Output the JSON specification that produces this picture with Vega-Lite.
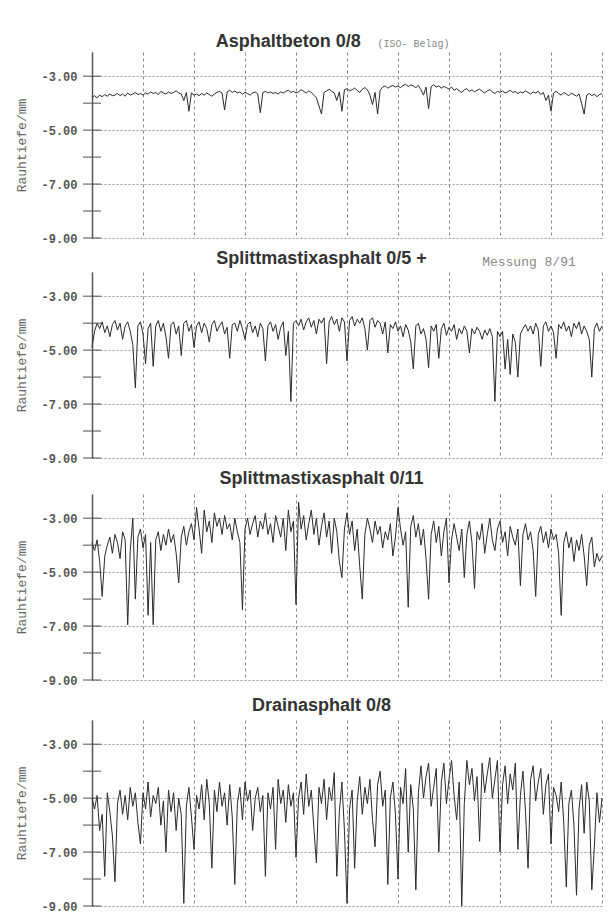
{
  "$schema": "https://vega.github.io/schema/vega-lite/v6.json",
  "padding": {"left": 15, "top": 33, "right": 5, "bottom": 3},
  "background": "white",
  "config": {
    "view": {"stroke": null},
    "axisY": {"domainColor": "#555", "domainWidth": 1.5, "ticks": false, "grid": true, "gridDash": [2, 2], "gridColor": "#999", "labelFont": "Liberation Mono", "labelFontSize": 12, "labelFontWeight": "bold", "labelColor": "#555", "labelPadding": 15, "titleFont": "Liberation Mono", "titleFontSize": 13, "titleFontWeight": "normal", "titleColor": "#666", "titlePadding": 12},
    "axisX": {"labels": false, "ticks": false, "domain": false, "grid": true, "gridDash": [3, 3], "gridColor": "#888"},
    "text": {"font": "Liberation Sans", "fontSize": 18, "fontWeight": "bold", "color": "#333", "baseline": "middle"}
  },
  "datasets": {
    "ticks": [{"y": -3}, {"y": -4}, {"y": -5}, {"y": -6}, {"y": -7}, {"y": -8}, {"y": -9}],
    "p1": [
{"x":0,"y":-3.78},{"x":1,"y":-3.72},{"x":2,"y":-3.80},{"x":3,"y":-3.70},{"x":4,"y":-3.76},{"x":5,"y":-3.68},{"x":6,"y":-3.74},{"x":7,"y":-3.66},{"x":8,"y":-3.72},{"x":9,"y":-3.70},
{"x":10,"y":-3.64},{"x":11,"y":-3.72},{"x":12,"y":-3.66},{"x":13,"y":-3.74},{"x":14,"y":-3.62},{"x":15,"y":-3.70},{"x":16,"y":-3.66},{"x":17,"y":-3.60},{"x":18,"y":-3.68},{"x":19,"y":-3.64},
{"x":20,"y":-3.70},{"x":21,"y":-3.62},{"x":22,"y":-3.66},{"x":23,"y":-3.58},{"x":24,"y":-3.64},{"x":25,"y":-3.60},{"x":26,"y":-3.68},{"x":27,"y":-3.56},{"x":28,"y":-3.62},{"x":29,"y":-3.66},
{"x":30,"y":-3.58},{"x":31,"y":-3.64},{"x":32,"y":-3.60},{"x":33,"y":-3.54},{"x":34,"y":-3.62},{"x":35,"y":-3.66},{"x":36,"y":-3.90},{"x":37,"y":-3.60},{"x":38,"y":-4.30},{"x":39,"y":-3.62},
{"x":40,"y":-3.70},{"x":41,"y":-3.66},{"x":42,"y":-3.72},{"x":43,"y":-3.64},{"x":44,"y":-3.70},{"x":45,"y":-3.62},{"x":46,"y":-3.68},{"x":47,"y":-3.74},{"x":48,"y":-3.66},{"x":49,"y":-3.60},
{"x":50,"y":-3.56},{"x":51,"y":-3.62},{"x":52,"y":-4.25},{"x":53,"y":-3.58},{"x":54,"y":-3.52},{"x":55,"y":-3.60},{"x":56,"y":-3.55},{"x":57,"y":-3.62},{"x":58,"y":-3.58},{"x":59,"y":-3.66},
{"x":60,"y":-3.60},{"x":61,"y":-3.64},{"x":62,"y":-3.70},{"x":63,"y":-3.62},{"x":64,"y":-3.58},{"x":65,"y":-3.66},{"x":66,"y":-4.35},{"x":67,"y":-3.60},{"x":68,"y":-3.56},{"x":69,"y":-3.62},
{"x":70,"y":-3.58},{"x":71,"y":-3.64},{"x":72,"y":-3.60},{"x":73,"y":-3.66},{"x":74,"y":-3.58},{"x":75,"y":-3.62},{"x":76,"y":-3.56},{"x":77,"y":-3.52},{"x":78,"y":-3.60},{"x":79,"y":-3.56},
{"x":80,"y":-3.62},{"x":81,"y":-3.58},{"x":82,"y":-3.50},{"x":83,"y":-3.56},{"x":84,"y":-3.62},{"x":85,"y":-3.54},{"x":86,"y":-3.60},{"x":87,"y":-3.70},{"x":88,"y":-3.80},{"x":89,"y":-4.10},
{"x":90,"y":-4.40},{"x":91,"y":-3.60},{"x":92,"y":-3.54},{"x":93,"y":-3.48},{"x":94,"y":-3.56},{"x":95,"y":-3.62},{"x":96,"y":-3.90},{"x":97,"y":-3.58},{"x":98,"y":-4.30},{"x":99,"y":-3.50},
{"x":100,"y":-3.46},{"x":101,"y":-3.54},{"x":102,"y":-3.50},{"x":103,"y":-3.44},{"x":104,"y":-3.52},{"x":105,"y":-3.60},{"x":106,"y":-3.48},{"x":107,"y":-3.42},{"x":108,"y":-3.50},{"x":109,"y":-3.70},
{"x":110,"y":-4.05},{"x":111,"y":-3.60},{"x":112,"y":-4.40},{"x":113,"y":-3.52},{"x":114,"y":-3.40},{"x":115,"y":-3.36},{"x":116,"y":-3.44},{"x":117,"y":-3.38},{"x":118,"y":-3.34},{"x":119,"y":-3.40},
{"x":120,"y":-3.36},{"x":121,"y":-3.42},{"x":122,"y":-3.34},{"x":123,"y":-3.30},{"x":124,"y":-3.38},{"x":125,"y":-3.32},{"x":126,"y":-3.36},{"x":127,"y":-3.42},{"x":128,"y":-3.34},{"x":129,"y":-3.50},
{"x":130,"y":-3.70},{"x":131,"y":-3.40},{"x":132,"y":-4.20},{"x":133,"y":-3.38},{"x":134,"y":-3.32},{"x":135,"y":-3.40},{"x":136,"y":-3.36},{"x":137,"y":-3.44},{"x":138,"y":-3.38},{"x":139,"y":-3.42},
{"x":140,"y":-3.48},{"x":141,"y":-3.40},{"x":142,"y":-3.52},{"x":143,"y":-3.46},{"x":144,"y":-3.54},{"x":145,"y":-3.60},{"x":146,"y":-3.50},{"x":147,"y":-3.46},{"x":148,"y":-3.56},{"x":149,"y":-3.50},
{"x":150,"y":-3.58},{"x":151,"y":-3.52},{"x":152,"y":-3.48},{"x":153,"y":-3.56},{"x":154,"y":-3.62},{"x":155,"y":-3.54},{"x":156,"y":-3.50},{"x":157,"y":-3.58},{"x":158,"y":-3.64},{"x":159,"y":-3.56},
{"x":160,"y":-3.60},{"x":161,"y":-3.54},{"x":162,"y":-3.62},{"x":163,"y":-3.58},{"x":164,"y":-3.52},{"x":165,"y":-3.60},{"x":166,"y":-3.56},{"x":167,"y":-3.64},{"x":168,"y":-3.58},{"x":169,"y":-3.62},
{"x":170,"y":-3.54},{"x":171,"y":-3.60},{"x":172,"y":-3.66},{"x":173,"y":-3.58},{"x":174,"y":-3.62},{"x":175,"y":-3.56},{"x":176,"y":-3.68},{"x":177,"y":-3.60},{"x":178,"y":-3.90},{"x":179,"y":-3.70},
{"x":180,"y":-4.30},{"x":181,"y":-3.62},{"x":182,"y":-3.56},{"x":183,"y":-3.64},{"x":184,"y":-3.70},{"x":185,"y":-3.60},{"x":186,"y":-3.66},{"x":187,"y":-3.72},{"x":188,"y":-3.62},{"x":189,"y":-3.68},
{"x":190,"y":-3.74},{"x":191,"y":-3.66},{"x":192,"y":-4.00},{"x":193,"y":-4.40},{"x":194,"y":-3.70},{"x":195,"y":-3.64},{"x":196,"y":-3.72},{"x":197,"y":-3.66},{"x":198,"y":-3.76},{"x":199,"y":-3.68},
{"x":200,"y":-3.64}
    ],
    "p2": [
{"x":0,"y":-4.90},{"x":1,"y":-4.30},{"x":2,"y":-4.00},{"x":3,"y":-4.20},{"x":4,"y":-3.95},{"x":5,"y":-4.35},{"x":6,"y":-4.10},{"x":7,"y":-4.50},{"x":8,"y":-4.05},{"x":9,"y":-3.90},
{"x":10,"y":-4.25},{"x":11,"y":-4.00},{"x":12,"y":-4.60},{"x":13,"y":-4.10},{"x":14,"y":-3.95},{"x":15,"y":-4.30},{"x":16,"y":-4.80},{"x":17,"y":-6.40},{"x":18,"y":-4.10},{"x":19,"y":-3.95},
{"x":20,"y":-4.40},{"x":21,"y":-5.50},{"x":22,"y":-4.20},{"x":23,"y":-4.00},{"x":24,"y":-5.60},{"x":25,"y":-4.10},{"x":26,"y":-3.90},{"x":27,"y":-4.30},{"x":28,"y":-4.00},{"x":29,"y":-4.50},
{"x":30,"y":-5.30},{"x":31,"y":-4.05},{"x":32,"y":-3.95},{"x":33,"y":-4.40},{"x":34,"y":-4.10},{"x":35,"y":-5.20},{"x":36,"y":-4.00},{"x":37,"y":-3.90},{"x":38,"y":-4.30},{"x":39,"y":-4.05},
{"x":40,"y":-4.90},{"x":41,"y":-4.10},{"x":42,"y":-3.95},{"x":43,"y":-4.35},{"x":44,"y":-4.00},{"x":45,"y":-4.20},{"x":46,"y":-4.70},{"x":47,"y":-4.05},{"x":48,"y":-3.90},{"x":49,"y":-4.30},
{"x":50,"y":-4.10},{"x":51,"y":-3.95},{"x":52,"y":-4.40},{"x":53,"y":-4.15},{"x":54,"y":-5.30},{"x":55,"y":-4.05},{"x":56,"y":-4.00},{"x":57,"y":-4.30},{"x":58,"y":-3.90},{"x":59,"y":-4.20},
{"x":60,"y":-4.60},{"x":61,"y":-4.05},{"x":62,"y":-3.95},{"x":63,"y":-4.35},{"x":64,"y":-4.10},{"x":65,"y":-4.50},{"x":66,"y":-4.00},{"x":67,"y":-4.20},{"x":68,"y":-5.40},{"x":69,"y":-4.10},
{"x":70,"y":-3.95},{"x":71,"y":-4.30},{"x":72,"y":-4.05},{"x":73,"y":-4.60},{"x":74,"y":-4.15},{"x":75,"y":-3.95},{"x":76,"y":-5.20},{"x":77,"y":-4.30},{"x":78,"y":-6.90},{"x":79,"y":-4.00},
{"x":80,"y":-3.90},{"x":81,"y":-4.10},{"x":82,"y":-3.85},{"x":83,"y":-4.25},{"x":84,"y":-3.95},{"x":85,"y":-3.80},{"x":86,"y":-4.15},{"x":87,"y":-3.90},{"x":88,"y":-4.40},{"x":89,"y":-3.85},
{"x":90,"y":-4.00},{"x":91,"y":-3.80},{"x":92,"y":-5.50},{"x":93,"y":-3.95},{"x":94,"y":-3.75},{"x":95,"y":-4.05},{"x":96,"y":-3.85},{"x":97,"y":-4.30},{"x":98,"y":-3.80},{"x":99,"y":-3.95},
{"x":100,"y":-5.40},{"x":101,"y":-3.90},{"x":102,"y":-3.75},{"x":103,"y":-4.10},{"x":104,"y":-3.85},{"x":105,"y":-4.00},{"x":106,"y":-3.80},{"x":107,"y":-4.20},{"x":108,"y":-5.00},{"x":109,"y":-3.90},
{"x":110,"y":-3.80},{"x":111,"y":-4.15},{"x":112,"y":-3.90},{"x":113,"y":-4.00},{"x":114,"y":-4.40},{"x":115,"y":-3.95},{"x":116,"y":-5.10},{"x":117,"y":-4.05},{"x":118,"y":-4.20},{"x":119,"y":-3.95},
{"x":120,"y":-4.30},{"x":121,"y":-4.10},{"x":122,"y":-4.50},{"x":123,"y":-4.05},{"x":124,"y":-4.25},{"x":125,"y":-4.70},{"x":126,"y":-5.70},{"x":127,"y":-4.10},{"x":128,"y":-4.00},{"x":129,"y":-4.40},
{"x":130,"y":-4.20},{"x":131,"y":-4.60},{"x":132,"y":-5.65},{"x":133,"y":-4.10},{"x":134,"y":-4.30},{"x":135,"y":-4.05},{"x":136,"y":-5.30},{"x":137,"y":-4.20},{"x":138,"y":-4.00},{"x":139,"y":-4.45},
{"x":140,"y":-4.15},{"x":141,"y":-4.30},{"x":142,"y":-4.05},{"x":143,"y":-4.60},{"x":144,"y":-4.20},{"x":145,"y":-4.40},{"x":146,"y":-4.10},{"x":147,"y":-4.30},{"x":148,"y":-5.10},{"x":149,"y":-4.20},
{"x":150,"y":-4.40},{"x":151,"y":-4.15},{"x":152,"y":-4.30},{"x":153,"y":-4.60},{"x":154,"y":-4.25},{"x":155,"y":-4.45},{"x":156,"y":-4.20},{"x":157,"y":-4.50},{"x":158,"y":-6.90},{"x":159,"y":-4.30},
{"x":160,"y":-4.50},{"x":161,"y":-4.30},{"x":162,"y":-5.70},{"x":163,"y":-4.60},{"x":164,"y":-5.90},{"x":165,"y":-4.40},{"x":166,"y":-4.70},{"x":167,"y":-6.00},{"x":168,"y":-4.40},{"x":169,"y":-4.20},
{"x":170,"y":-4.05},{"x":171,"y":-4.30},{"x":172,"y":-4.10},{"x":173,"y":-4.40},{"x":174,"y":-4.00},{"x":175,"y":-4.25},{"x":176,"y":-5.60},{"x":177,"y":-4.10},{"x":178,"y":-3.95},{"x":179,"y":-4.30},
{"x":180,"y":-4.10},{"x":181,"y":-4.35},{"x":182,"y":-5.30},{"x":183,"y":-4.05},{"x":184,"y":-4.20},{"x":185,"y":-3.95},{"x":186,"y":-4.30},{"x":187,"y":-4.10},{"x":188,"y":-4.50},{"x":189,"y":-4.00},
{"x":190,"y":-4.20},{"x":191,"y":-3.95},{"x":192,"y":-4.40},{"x":193,"y":-4.10},{"x":194,"y":-4.30},{"x":195,"y":-4.60},{"x":196,"y":-6.00},{"x":197,"y":-4.20},{"x":198,"y":-4.00},{"x":199,"y":-4.30},
{"x":200,"y":-4.10}
    ],
    "p3": [
{"x":0,"y":-3.90},{"x":1,"y":-4.20},{"x":2,"y":-3.80},{"x":3,"y":-4.60},{"x":4,"y":-5.90},{"x":5,"y":-4.40},{"x":6,"y":-4.00},{"x":7,"y":-3.70},{"x":8,"y":-4.30},{"x":9,"y":-3.60},
{"x":10,"y":-3.90},{"x":11,"y":-4.50},{"x":12,"y":-3.50},{"x":13,"y":-3.80},{"x":14,"y":-6.95},{"x":15,"y":-4.20},{"x":16,"y":-3.00},{"x":17,"y":-6.00},{"x":18,"y":-3.70},{"x":19,"y":-3.40},
{"x":20,"y":-4.10},{"x":21,"y":-3.60},{"x":22,"y":-6.60},{"x":23,"y":-3.90},{"x":24,"y":-6.95},{"x":25,"y":-3.80},{"x":26,"y":-3.50},{"x":27,"y":-4.20},{"x":28,"y":-3.60},{"x":29,"y":-4.00},
{"x":30,"y":-3.40},{"x":31,"y":-3.90},{"x":32,"y":-3.60},{"x":33,"y":-4.30},{"x":34,"y":-5.40},{"x":35,"y":-3.70},{"x":36,"y":-3.30},{"x":37,"y":-4.00},{"x":38,"y":-3.50},{"x":39,"y":-3.20},
{"x":40,"y":-3.80},{"x":41,"y":-2.60},{"x":42,"y":-3.40},{"x":43,"y":-4.30},{"x":44,"y":-2.70},{"x":45,"y":-3.50},{"x":46,"y":-3.10},{"x":47,"y":-3.90},{"x":48,"y":-2.80},{"x":49,"y":-3.30},
{"x":50,"y":-3.00},{"x":51,"y":-3.60},{"x":52,"y":-2.90},{"x":53,"y":-3.40},{"x":54,"y":-3.20},{"x":55,"y":-3.80},{"x":56,"y":-3.00},{"x":57,"y":-3.50},{"x":58,"y":-3.90},{"x":59,"y":-6.40},
{"x":60,"y":-3.40},{"x":61,"y":-3.00},{"x":62,"y":-3.60},{"x":63,"y":-3.20},{"x":64,"y":-2.90},{"x":65,"y":-3.70},{"x":66,"y":-3.10},{"x":67,"y":-3.40},{"x":68,"y":-2.80},{"x":69,"y":-3.60},
{"x":70,"y":-3.20},{"x":71,"y":-3.90},{"x":72,"y":-2.90},{"x":73,"y":-3.30},{"x":74,"y":-3.70},{"x":75,"y":-3.00},{"x":76,"y":-4.20},{"x":77,"y":-2.70},{"x":78,"y":-3.50},{"x":79,"y":-3.10},
{"x":80,"y":-6.20},{"x":81,"y":-2.40},{"x":82,"y":-3.40},{"x":83,"y":-2.90},{"x":84,"y":-3.80},{"x":85,"y":-3.20},{"x":86,"y":-2.70},{"x":87,"y":-3.60},{"x":88,"y":-3.00},{"x":89,"y":-4.00},
{"x":90,"y":-3.30},{"x":91,"y":-2.80},{"x":92,"y":-3.70},{"x":93,"y":-3.10},{"x":94,"y":-4.30},{"x":95,"y":-3.00},{"x":96,"y":-3.50},{"x":97,"y":-4.60},{"x":98,"y":-5.20},{"x":99,"y":-3.40},
{"x":100,"y":-2.80},{"x":101,"y":-3.60},{"x":102,"y":-3.10},{"x":103,"y":-4.20},{"x":104,"y":-3.40},{"x":105,"y":-4.80},{"x":106,"y":-6.00},{"x":107,"y":-3.60},{"x":108,"y":-3.00},{"x":109,"y":-3.40},
{"x":110,"y":-3.90},{"x":111,"y":-3.10},{"x":112,"y":-3.60},{"x":113,"y":-3.30},{"x":114,"y":-4.10},{"x":115,"y":-3.50},{"x":116,"y":-3.80},{"x":117,"y":-3.20},{"x":118,"y":-4.40},{"x":119,"y":-3.70},
{"x":120,"y":-2.60},{"x":121,"y":-3.40},{"x":122,"y":-4.00},{"x":123,"y":-3.50},{"x":124,"y":-6.30},{"x":125,"y":-3.30},{"x":126,"y":-2.90},{"x":127,"y":-3.70},{"x":128,"y":-3.20},{"x":129,"y":-4.00},
{"x":130,"y":-3.40},{"x":131,"y":-4.50},{"x":132,"y":-6.00},{"x":133,"y":-3.60},{"x":134,"y":-3.10},{"x":135,"y":-3.90},{"x":136,"y":-3.30},{"x":137,"y":-4.40},{"x":138,"y":-3.50},{"x":139,"y":-3.00},
{"x":140,"y":-5.40},{"x":141,"y":-3.80},{"x":142,"y":-3.20},{"x":143,"y":-3.70},{"x":144,"y":-4.20},{"x":145,"y":-3.40},{"x":146,"y":-5.20},{"x":147,"y":-3.60},{"x":148,"y":-3.10},{"x":149,"y":-3.90},
{"x":150,"y":-5.60},{"x":151,"y":-3.50},{"x":152,"y":-3.80},{"x":153,"y":-3.20},{"x":154,"y":-4.30},{"x":155,"y":-3.60},{"x":156,"y":-3.00},{"x":157,"y":-3.80},{"x":158,"y":-4.20},{"x":159,"y":-3.40},
{"x":160,"y":-3.10},{"x":161,"y":-3.90},{"x":162,"y":-3.50},{"x":163,"y":-4.40},{"x":164,"y":-3.30},{"x":165,"y":-3.70},{"x":166,"y":-4.00},{"x":167,"y":-3.40},{"x":168,"y":-5.50},{"x":169,"y":-3.60},
{"x":170,"y":-3.20},{"x":171,"y":-3.80},{"x":172,"y":-3.50},{"x":173,"y":-4.20},{"x":174,"y":-5.90},{"x":175,"y":-3.60},{"x":176,"y":-3.30},{"x":177,"y":-3.90},{"x":178,"y":-3.50},{"x":179,"y":-4.10},
{"x":180,"y":-3.40},{"x":181,"y":-3.80},{"x":182,"y":-3.60},{"x":183,"y":-4.30},{"x":184,"y":-6.60},{"x":185,"y":-3.90},{"x":186,"y":-3.50},{"x":187,"y":-4.10},{"x":188,"y":-3.70},{"x":189,"y":-4.60},
{"x":190,"y":-3.80},{"x":191,"y":-4.20},{"x":192,"y":-3.60},{"x":193,"y":-4.40},{"x":194,"y":-5.50},{"x":195,"y":-4.00},{"x":196,"y":-3.70},{"x":197,"y":-4.80},{"x":198,"y":-4.30},{"x":199,"y":-4.60},
{"x":200,"y":-4.40}
    ],
    "p4": [
{"x":0,"y":-5.00},{"x":1,"y":-5.40},{"x":2,"y":-4.90},{"x":3,"y":-6.20},{"x":4,"y":-5.60},{"x":5,"y":-7.90},{"x":6,"y":-4.80},{"x":7,"y":-5.50},{"x":8,"y":-6.40},{"x":9,"y":-8.10},
{"x":10,"y":-5.20},{"x":11,"y":-4.70},{"x":12,"y":-5.60},{"x":13,"y":-4.90},{"x":14,"y":-5.80},{"x":15,"y":-4.60},{"x":16,"y":-5.30},{"x":17,"y":-4.80},{"x":18,"y":-5.90},{"x":19,"y":-6.70},
{"x":20,"y":-4.80},{"x":21,"y":-5.40},{"x":22,"y":-4.40},{"x":23,"y":-5.70},{"x":24,"y":-4.90},{"x":25,"y":-5.20},{"x":26,"y":-4.60},{"x":27,"y":-6.00},{"x":28,"y":-5.10},{"x":29,"y":-7.00},
{"x":30,"y":-4.70},{"x":31,"y":-5.50},{"x":32,"y":-4.80},{"x":33,"y":-6.20},{"x":34,"y":-5.00},{"x":35,"y":-5.60},{"x":36,"y":-8.90},{"x":37,"y":-5.30},{"x":38,"y":-4.60},{"x":39,"y":-5.70},
{"x":40,"y":-6.90},{"x":41,"y":-4.90},{"x":42,"y":-5.40},{"x":43,"y":-4.50},{"x":44,"y":-5.80},{"x":45,"y":-4.30},{"x":46,"y":-5.20},{"x":47,"y":-7.60},{"x":48,"y":-4.70},{"x":49,"y":-5.50},
{"x":50,"y":-4.40},{"x":51,"y":-5.30},{"x":52,"y":-4.80},{"x":53,"y":-6.00},{"x":54,"y":-4.50},{"x":55,"y":-5.70},{"x":56,"y":-8.20},{"x":57,"y":-5.20},{"x":58,"y":-4.60},{"x":59,"y":-5.80},
{"x":60,"y":-4.40},{"x":61,"y":-5.10},{"x":62,"y":-4.70},{"x":63,"y":-6.20},{"x":64,"y":-5.00},{"x":65,"y":-4.60},{"x":66,"y":-5.50},{"x":67,"y":-4.90},{"x":68,"y":-7.90},{"x":69,"y":-4.80},
{"x":70,"y":-5.40},{"x":71,"y":-4.60},{"x":72,"y":-6.90},{"x":73,"y":-4.30},{"x":74,"y":-5.20},{"x":75,"y":-4.70},{"x":76,"y":-5.90},{"x":77,"y":-4.50},{"x":78,"y":-5.30},{"x":79,"y":-4.80},
{"x":80,"y":-7.20},{"x":81,"y":-5.00},{"x":82,"y":-4.40},{"x":83,"y":-5.60},{"x":84,"y":-4.10},{"x":85,"y":-5.30},{"x":86,"y":-4.70},{"x":87,"y":-6.10},{"x":88,"y":-7.40},{"x":89,"y":-4.60},
{"x":90,"y":-5.20},{"x":91,"y":-4.30},{"x":92,"y":-5.80},{"x":93,"y":-4.60},{"x":94,"y":-5.10},{"x":95,"y":-4.05},{"x":96,"y":-7.90},{"x":97,"y":-5.50},{"x":98,"y":-4.40},{"x":99,"y":-6.20},
{"x":100,"y":-8.90},{"x":101,"y":-5.40},{"x":102,"y":-4.70},{"x":103,"y":-7.60},{"x":104,"y":-5.10},{"x":105,"y":-4.20},{"x":106,"y":-5.60},{"x":107,"y":-4.60},{"x":108,"y":-5.20},{"x":109,"y":-4.30},
{"x":110,"y":-5.80},{"x":111,"y":-6.80},{"x":112,"y":-4.50},{"x":113,"y":-4.00},{"x":114,"y":-5.30},{"x":115,"y":-4.70},{"x":116,"y":-8.20},{"x":117,"y":-5.00},{"x":118,"y":-4.40},{"x":119,"y":-5.60},
{"x":120,"y":-8.00},{"x":121,"y":-4.60},{"x":122,"y":-5.20},{"x":123,"y":-3.90},{"x":124,"y":-7.00},{"x":125,"y":-4.50},{"x":126,"y":-5.40},{"x":127,"y":-8.40},{"x":128,"y":-4.80},{"x":129,"y":-3.80},
{"x":130,"y":-5.00},{"x":131,"y":-4.20},{"x":132,"y":-3.70},{"x":133,"y":-5.30},{"x":134,"y":-4.60},{"x":135,"y":-3.90},{"x":136,"y":-7.00},{"x":137,"y":-4.40},{"x":138,"y":-3.70},{"x":139,"y":-5.20},
{"x":140,"y":-4.30},{"x":141,"y":-3.60},{"x":142,"y":-4.90},{"x":143,"y":-5.80},{"x":144,"y":-4.40},{"x":145,"y":-9.00},{"x":146,"y":-5.20},{"x":147,"y":-3.60},{"x":148,"y":-4.50},{"x":149,"y":-3.90},
{"x":150,"y":-5.10},{"x":151,"y":-4.20},{"x":152,"y":-6.60},{"x":153,"y":-3.70},{"x":154,"y":-4.80},{"x":155,"y":-4.10},{"x":156,"y":-3.50},{"x":157,"y":-5.00},{"x":158,"y":-4.30},{"x":159,"y":-3.60},
{"x":160,"y":-7.00},{"x":161,"y":-4.50},{"x":162,"y":-3.80},{"x":163,"y":-5.20},{"x":164,"y":-4.10},{"x":165,"y":-4.70},{"x":166,"y":-3.70},{"x":167,"y":-6.90},{"x":168,"y":-4.90},{"x":169,"y":-4.00},
{"x":170,"y":-5.50},{"x":171,"y":-7.60},{"x":172,"y":-4.30},{"x":173,"y":-3.80},{"x":174,"y":-5.10},{"x":175,"y":-4.40},{"x":176,"y":-3.90},{"x":177,"y":-5.60},{"x":178,"y":-4.50},{"x":179,"y":-4.10},
{"x":180,"y":-6.70},{"x":181,"y":-4.60},{"x":182,"y":-4.90},{"x":183,"y":-5.50},{"x":184,"y":-4.40},{"x":185,"y":-5.90},{"x":186,"y":-8.30},{"x":187,"y":-5.20},{"x":188,"y":-4.70},{"x":189,"y":-6.00},
{"x":190,"y":-8.60},{"x":191,"y":-5.40},{"x":192,"y":-4.50},{"x":193,"y":-6.30},{"x":194,"y":-4.40},{"x":195,"y":-5.10},{"x":196,"y":-8.40},{"x":197,"y":-6.80},{"x":198,"y":-4.80},{"x":199,"y":-5.90},
{"x":200,"y":-5.00}
    ]
  },
  "spacing": 10,
  "vconcat": [
    {
      "spacing": 6,
      "vconcat": [
        {
          "width": 510, "height": 186,
          "layer": [
            {"data": {"name": "p1"}, "mark": {"type": "line", "color": "#2a2a2a", "strokeWidth": 1},
             "encoding": {
              "x": {"field": "x", "type": "quantitative", "scale": {"domain": [0, 200], "nice": false}, "axis": {"values": [0, 20, 40, 60, 80, 100, 120, 140, 160, 180, 200], "title": null}},
              "y": {"field": "y", "type": "quantitative", "scale": {"domain": [-9, -2.1], "nice": false, "zero": false}, "axis": {"values": [-3, -4, -5, -6, -7, -8, -9], "title": "Rauhtiefe/mm", "labelExpr": "datum.value % 2 == 0 ? '' : '-' + format(abs(datum.value), '.2f')"}}
             }},
            {"data": {"name": "ticks"}, "mark": {"type": "tick", "orient": "horizontal", "size": 18, "thickness": 1.5, "color": "#555"},
             "encoding": {"x": {"datum": 0, "type": "quantitative"}, "y": {"field": "y", "type": "quantitative"}}},
            {"data": {"values": [{"label": "Asphaltbeton 0/8"}]}, "mark": {"type": "text", "align": "center"},
             "encoding": {"x": {"datum": 77, "type": "quantitative"}, "y": {"datum": -1.73, "type": "quantitative"}, "text": {"field": "label", "type": "nominal"}}},
            {"data": {"values": [{"label": "(ISO- Belag)"}]}, "mark": {"type": "text", "align": "left", "font": "Liberation Mono", "fontSize": 10, "fontWeight": "normal", "color": "#888"},
             "encoding": {"x": {"datum": 112, "type": "quantitative"}, "y": {"datum": -1.8, "type": "quantitative"}, "text": {"field": "label", "type": "nominal"}}}
          ]
        },
        {
          "width": 510, "height": 186,
          "layer": [
            {"data": {"name": "p2"}, "mark": {"type": "line", "color": "#2a2a2a", "strokeWidth": 1},
             "encoding": {
              "x": {"field": "x", "type": "quantitative", "scale": {"domain": [0, 200], "nice": false}, "axis": {"values": [0, 20, 40, 60, 80, 100, 120, 140, 160, 180, 200], "title": null}},
              "y": {"field": "y", "type": "quantitative", "scale": {"domain": [-9, -2.1], "nice": false, "zero": false}, "axis": {"values": [-3, -4, -5, -6, -7, -8, -9], "title": "Rauhtiefe/mm", "labelExpr": "datum.value % 2 == 0 ? '' : '-' + format(abs(datum.value), '.2f')"}}
             }},
            {"data": {"name": "ticks"}, "mark": {"type": "tick", "orient": "horizontal", "size": 18, "thickness": 1.5, "color": "#555"},
             "encoding": {"x": {"datum": 0, "type": "quantitative"}, "y": {"field": "y", "type": "quantitative"}}},
            {"data": {"values": [{"label": "Splittmastixasphalt 0/5 +"}]}, "mark": {"type": "text", "align": "center"},
             "encoding": {"x": {"datum": 90, "type": "quantitative"}, "y": {"datum": -1.62, "type": "quantitative"}, "text": {"field": "label", "type": "nominal"}}},
            {"data": {"values": [{"label": "Messung 8/91"}]}, "mark": {"type": "text", "align": "left", "font": "Liberation Mono", "fontSize": 13, "fontWeight": "normal", "color": "#888"},
             "encoding": {"x": {"datum": 153, "type": "quantitative"}, "y": {"datum": -1.73, "type": "quantitative"}, "text": {"field": "label", "type": "nominal"}}}
          ]
        },
        {
          "width": 510, "height": 186,
          "layer": [
            {"data": {"name": "p3"}, "mark": {"type": "line", "color": "#2a2a2a", "strokeWidth": 1},
             "encoding": {
              "x": {"field": "x", "type": "quantitative", "scale": {"domain": [0, 200], "nice": false}, "axis": {"values": [0, 20, 40, 60, 80, 100, 120, 140, 160, 180, 200], "title": null}},
              "y": {"field": "y", "type": "quantitative", "scale": {"domain": [-9, -2.1], "nice": false, "zero": false}, "axis": {"values": [-3, -4, -5, -6, -7, -8, -9], "title": "Rauhtiefe/mm", "labelExpr": "datum.value % 2 == 0 ? '' : '-' + format(abs(datum.value), '.2f')"}}
             }},
            {"data": {"name": "ticks"}, "mark": {"type": "tick", "orient": "horizontal", "size": 18, "thickness": 1.5, "color": "#555"},
             "encoding": {"x": {"datum": 0, "type": "quantitative"}, "y": {"field": "y", "type": "quantitative"}}},
            {"data": {"values": [{"label": "Splittmastixasphalt 0/11"}]}, "mark": {"type": "text", "align": "center"},
             "encoding": {"x": {"datum": 90, "type": "quantitative"}, "y": {"datum": -1.55, "type": "quantitative"}, "text": {"field": "label", "type": "nominal"}}}
          ]
        }
      ]
    },
    {
      "width": 510, "height": 186,
      "layer": [
        {"data": {"name": "p4"}, "mark": {"type": "line", "color": "#2a2a2a", "strokeWidth": 1},
         "encoding": {
          "x": {"field": "x", "type": "quantitative", "scale": {"domain": [0, 200], "nice": false}, "axis": {"values": [0, 20, 40, 60, 80, 100, 120, 140, 160, 180, 200], "title": null}},
          "y": {"field": "y", "type": "quantitative", "scale": {"domain": [-9, -2.1], "nice": false, "zero": false}, "axis": {"values": [-3, -4, -5, -6, -7, -8, -9], "title": "Rauhtiefe/mm", "labelExpr": "datum.value % 2 == 0 ? '' : '-' + format(abs(datum.value), '.2f')"}}
         }},
        {"data": {"name": "ticks"}, "mark": {"type": "tick", "orient": "horizontal", "size": 18, "thickness": 1.5, "color": "#555"},
         "encoding": {"x": {"datum": 0, "type": "quantitative"}, "y": {"field": "y", "type": "quantitative"}}},
        {"data": {"values": [{"label": "Drainasphalt 0/8"}]}, "mark": {"type": "text", "align": "center"},
         "encoding": {"x": {"datum": 90, "type": "quantitative"}, "y": {"datum": -1.58, "type": "quantitative"}, "text": {"field": "label", "type": "nominal"}}}
      ]
    }
  ]
}
